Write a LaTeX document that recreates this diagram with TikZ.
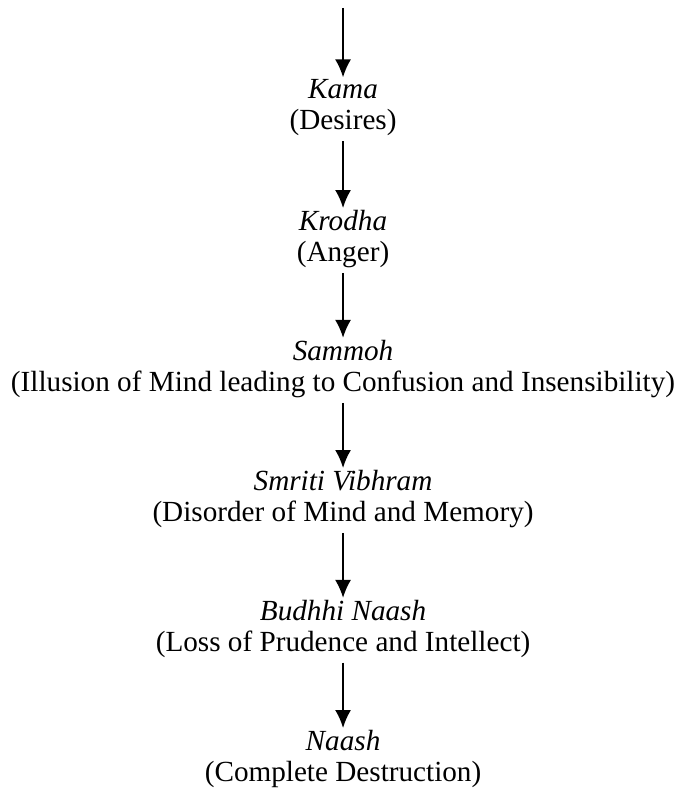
\documentclass[tikz,border=0pt]{standalone}
\usepackage{fontspec}
\setmainfont{Liberation Serif}
\usepackage{tikz}
\usetikzlibrary{arrows.meta,positioning}

\begin{document}
\begin{tikzpicture}[font=\fontsize{29.3}{31}\selectfont, >={Latex[length=18bp,width=16bp]},
  stage/.style={align=center, inner sep=0pt},
  arr/.style={->, line width=2bp, shorten <=5bp, shorten >=2bp}]
\useasboundingbox (0,0) rectangle (23.99,27.83);
\coordinate (top) at (12.10,27.55);
\node[stage] (kama) at (12.10,24.03) {\textit{Kama}\\(Desires)};
\node[stage] (krodha) at (12.10,19.40) {\textit{Krodha}\\(Anger)};
\node[stage] (sammoh) at (12.10,14.82) {\textit{Sammoh}\\(Illusion of Mind leading to Confusion and Insensibility)};
\node[stage] (smriti) at (12.10,10.23) {\textit{Smriti Vibhram}\\(Disorder of Mind and Memory)};
\node[stage] (budhhi) at (12.10,5.65) {\textit{Budhhi Naash}\\(Loss of Prudence and Intellect)};
\node[stage] (naash) at (12.10,1.06) {\textit{Naash}\\(Complete Destruction)};
\draw[arr, shorten <=0pt] (top) -- (kama);
\draw[arr] (kama) -- (krodha);
\draw[arr] (krodha) -- (sammoh);
\draw[arr] (sammoh) -- (smriti);
\draw[arr] (smriti) -- (budhhi);
\draw[arr] (budhhi) -- (naash);
\end{tikzpicture}
\end{document}
